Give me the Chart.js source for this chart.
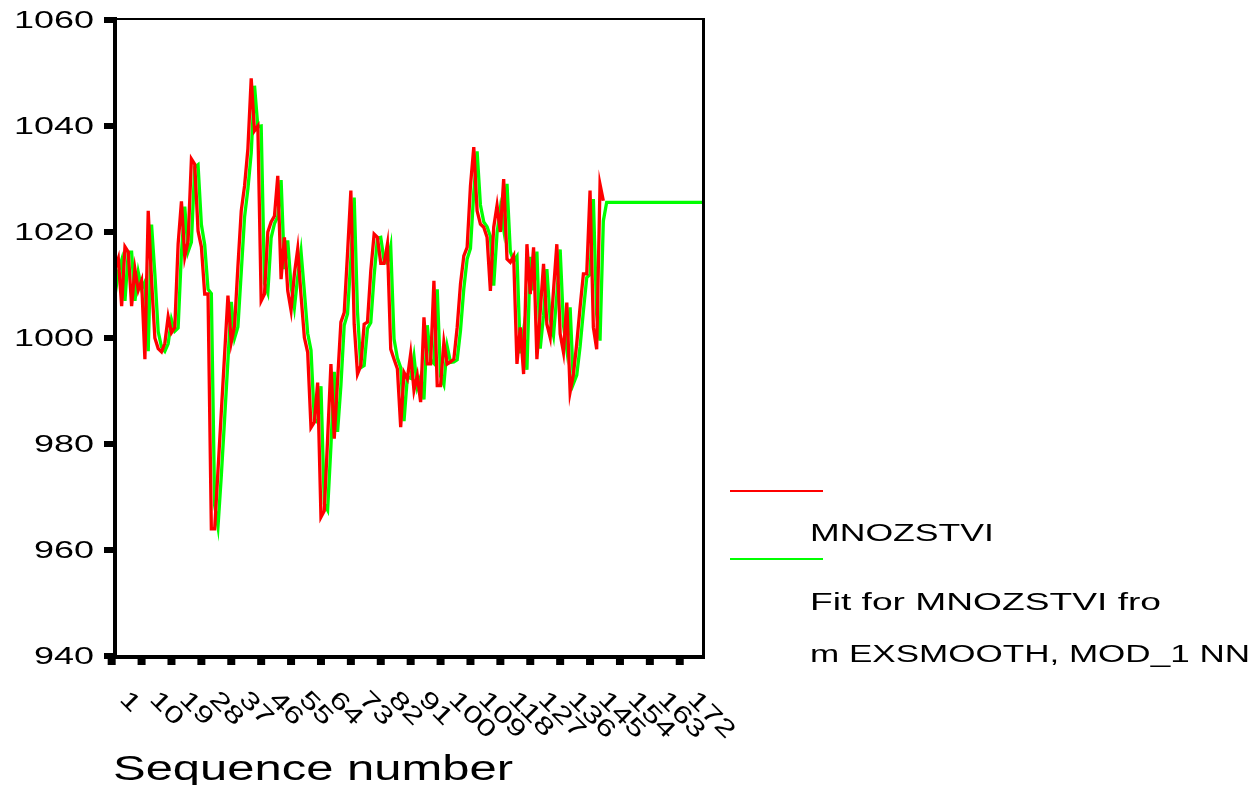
<!DOCTYPE html>
<html>
<head>
<meta charset="utf-8">
<script src="https://cdn.jsdelivr.net/npm/chart.js@4.4.0/dist/chart.umd.min.js"></script>
<style>
  html, body { margin: 0; padding: 0; background: #fff; }
  canvas { display: block; }
</style>
</head>
<body>
<canvas id="chart" width="1255" height="785"></canvas>
<script>
// sequence numbers 1..178 (148 observed cases + 30 forecast cases)
const caseCount = 178;
const sequence = Array.from({ length: caseCount }, (_, i) => String(i + 1));

// tick labels shown under the x axis, every 9th case
const xTickLabels = ['1', '10', '19', '28', '37', '46', '55', '64', '73', '82',
  '91', '100', '109', '118', '127', '136', '145', '154', '163', '172'];
const yTickValues = [940, 960, 980, 1000, 1020, 1040, 1060];

// MNOZSTVI (observed)
const mnozstvi = [
  1013, 1015, 1006, 1017.2, 1016.2, 1006, 1013, 1009, 1010.8, 996,
  1024, 1011, 1000, 998, 997.4, 999, 1004, 1001, 1002, 1017.7,
  1025.8, 1015.3, 1018.3, 1033.8, 1032.8, 1020.2, 1017.2, 1008.3, 1008.3, 964,
  964, 975, 986, 997, 1008, 999.2, 1002.3, 1013.5, 1024, 1028.7,
  1035.7, 1049, 1039.1, 1040, 1007, 1008.3, 1020, 1021.9, 1023, 1030.6,
  1011.1, 1019, 1008.9, 1005.2, 1012.1, 1016.8, 1008, 1000.1, 997.3, 983.1,
  984.1, 991.6, 966.2, 967.4, 981, 995.1, 981, 992, 1003, 1004.8,
  1016, 1027.8, 1002.6, 993.2, 994.8, 1002.6, 1003, 1012.7, 1019.6, 1019,
  1014.1, 1014.1, 1017.7, 997.9, 996, 994.2, 983.2, 993.5, 992.3, 997,
  990.1, 992.9, 987.9, 1003.9, 995.1, 995.1, 1010.8, 991, 991, 999.2,
  995.1, 995.5, 996, 1002, 1010.2, 1015.5, 1017.1, 1028.7, 1036, 1024,
  1021.5, 1020.9, 1019, 1008.9, 1020.9, 1025, 1020, 1030, 1014.9, 1014.3,
  1015.5, 995.1, 1002, 993.2, 1017.7, 1008.3, 1017.1, 996, 1005, 1014,
  1002.6, 1000.1, 1009, 1017.7, 1000.8, 997.3, 1006.7, 989.8, 993.2, 999,
  1005.8, 1012.1, 1012.1, 1027.8, 1002, 997.9, 1029, 1025.9
];

// Fit for MNOZSTVI from EXSMOOTH, MOD_1 NN
const fitValues = [
  1008, 1012.5, 1014.7, 1007, 1016.2, 1016.2, 1007, 1012.4, 1009.3, 1010.6,
  997.5, 1021.4, 1012.1, 1001.2, 998.3, 997.5, 998.9, 1003.5, 1001.3, 1001.9,
  1016.1, 1024.8, 1016.3, 1018.1, 1032.2, 1032.7, 1021.4, 1017.6, 1009.2, 1008.4,
  968.4, 964.4, 974, 984.8, 995.8, 1006.8, 1000, 1002.1, 1012.4, 1022.8,
  1028.1, 1034.9, 1047.6, 1039.9, 1040, 1010.3, 1008.5, 1018.9, 1021.6, 1022.9,
  1029.8, 1013, 1018.4, 1009.8, 1005.7, 1011.5, 1016.3, 1008.8, 1000.9, 997.7,
  984.6, 984.1, 990.9, 968.7, 967.5, 979.6, 993.6, 982.3, 991, 1002.4,
  1004.6, 1014.9, 1026.5, 1004.9, 994.4, 994.8, 1001.8, 1002.9, 1011.7, 1018.8,
  1019, 1014.6, 1014.1, 1017.3, 999.8, 996.2, 994.4, 984.3, 992.6, 992.4,
  996.5, 990.7, 992.7, 988.4, 1002.4, 995.8, 995.2, 1009.2, 992.8, 991.2,
  998.4, 995.4, 995.5, 995.9, 1001.4, 1009.3, 1014.9, 1016.9, 1027.5, 1035.2,
  1025.1, 1021.9, 1021, 1019.2, 1009.9, 1019.8, 1024.5, 1020.5, 1029.1, 1016.3,
  1014.5, 1015.4, 997.1, 1001.5, 994, 1015.3, 1009, 1016.3, 998, 1004.3,
  1013, 1003.6, 1000.5, 1008.1, 1016.7, 1002.4, 997.8, 1005.8, 991.4, 993,
  998.4, 1005.1, 1011.4, 1012, 1026.2, 1004.4, 999.5, 1022.1,
  1025.6, 1025.6, 1025.6, 1025.6, 1025.6, 1025.6, 1025.6, 1025.6, 1025.6, 1025.6,
  1025.6, 1025.6, 1025.6, 1025.6, 1025.6, 1025.6, 1025.6, 1025.6, 1025.6, 1025.6,
  1025.6, 1025.6, 1025.6, 1025.6, 1025.6, 1025.6, 1025.6, 1025.6, 1025.6, 1025.6
];

const FONT = '"Liberation Sans", Arial, sans-serif';

// text squeezed/stretched to the width it has in the original output
function fitText(ctx, text, x, y, size, width, align, baseline) {
  ctx.save();
  ctx.font = size + 'px ' + FONT;
  ctx.textBaseline = baseline || 'alphabetic';
  const w = ctx.measureText(text).width;
  const sx = width / w;
  ctx.translate(x, y);
  ctx.scale(sx, 1);
  ctx.textAlign = align || 'left';
  ctx.fillText(text, 0, 0);
  ctx.restore();
}

const spssFrame = {
  id: 'spssFrame',
  afterDraw(chart) {
    const { ctx, scales: { x, y } } = chart;
    ctx.save();
    ctx.fillStyle = '#000';
    ctx.strokeStyle = '#000';

    // plot frame
    ctx.lineWidth = 4;
    ctx.beginPath();
    ctx.moveTo(115, 17); ctx.lineTo(115, 659);
    ctx.moveTo(112, 657); ctx.lineTo(705, 657);
    ctx.stroke();
    ctx.lineWidth = 3;
    ctx.beginPath();
    ctx.moveTo(703.5, 18); ctx.lineTo(703.5, 657);
    ctx.stroke();
    ctx.lineWidth = 2;
    ctx.beginPath();
    ctx.moveTo(114, 19); ctx.lineTo(705, 19);
    ctx.stroke();

    // y ticks and labels
    yTickValues.forEach(v => {
      const py = Math.round(y.getPixelForValue(v));
      ctx.fillRect(104, py - 3, 11, 6);
      fitText(ctx, String(v), 94, py + 8, 23, String(v).length * 20, 'right');
    });

    // x ticks and rotated labels
    const step = x.getPixelForValue(1) - x.getPixelForValue(0);
    xTickLabels.forEach(lbl => {
      const idx = Number(lbl) - 1;
      const px = x.getPixelForValue(idx) - step;
      ctx.fillRect(px - 4, 659, 8, 6);
      ctx.save();
      ctx.translate(px + 20, 687);
      ctx.rotate(Math.PI / 4);
      ctx.scale(1.4, 1);
      ctx.font = '24px ' + FONT;
      ctx.textBaseline = 'top';
      ctx.textAlign = 'left';
      ctx.fillText(lbl, 0, 0);
      ctx.restore();
    });

    // axis title
    fitText(ctx, 'Sequence number', 113, 780, 35, 400, 'left');

    // legend
    ctx.lineWidth = 2;
    ctx.strokeStyle = '#ff0000';
    ctx.beginPath(); ctx.moveTo(730, 491); ctx.lineTo(823, 491); ctx.stroke();
    ctx.strokeStyle = '#00ff00';
    ctx.beginPath(); ctx.moveTo(730, 559); ctx.lineTo(823, 559); ctx.stroke();
    fitText(ctx, 'MNOZSTVI', 810, 541, 23, 184, 'left');
    fitText(ctx, 'Fit for MNOZSTVI fro', 810, 610, 23, 351, 'left');
    fitText(ctx, 'm EXSMOOTH, MOD_1 NN', 810, 662, 23, 440, 'left');

    ctx.restore();
  }
};

new Chart(document.getElementById('chart'), {
  type: 'line',
  data: {
    labels: sequence,
    datasets: [
      {
        label: 'MNOZSTVI',
        data: mnozstvi,
        borderColor: '#ff0000',
        borderWidth: 3.3,
        pointRadius: 0,
        tension: 0,
        fill: false,
        order: 0
      },
      {
        label: 'Fit for MNOZSTVI from EXSMOOTH, MOD_1 NN',
        data: fitValues,
        borderColor: '#00ff00',
        borderWidth: 3.3,
        pointRadius: 0,
        tension: 0,
        fill: false,
        order: 1
      }
    ]
  },
  options: {
    responsive: false,
    animation: false,
    devicePixelRatio: 1,
    layout: { padding: { left: 115, right: 552, top: 20, bottom: 129 } },
    plugins: { legend: { display: false }, tooltip: { enabled: false } },
    scales: {
      x: { type: 'category', display: false, offset: false },
      y: { type: 'linear', display: false, min: 940, max: 1060 }
    }
  },
  plugins: [spssFrame]
});
</script>
</body>
</html>
